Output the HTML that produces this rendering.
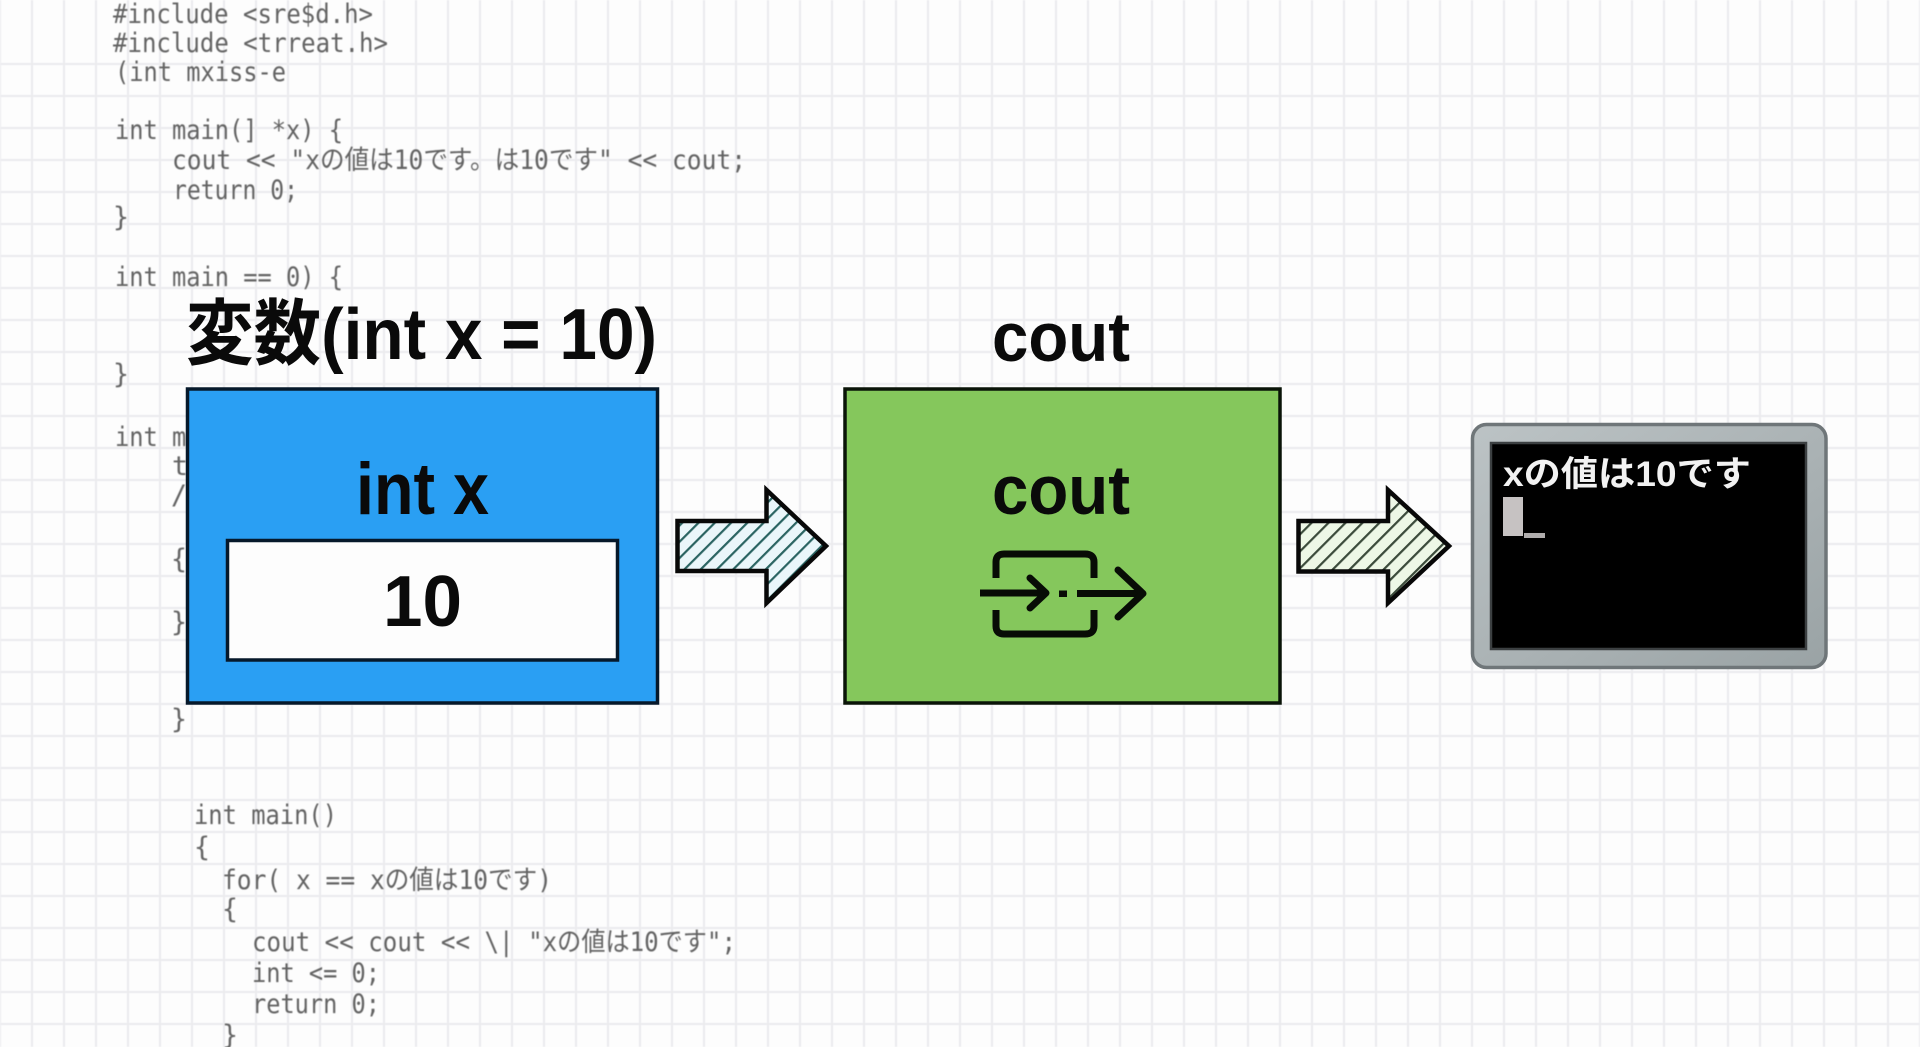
<!DOCTYPE html>
<html lang="ja">
<head>
<meta charset="utf-8">
<title>int x cout diagram</title>
<style>
html,body{margin:0;padding:0;width:1920px;height:1047px;overflow:hidden;background:#fdfdfd}
svg{display:block}
.c{font-family:"DejaVu Sans Mono","Noto Sans CJK JP",monospace;font-size:26.5px;fill:#636363}
.code{filter:blur(.45px)}
.b{font-family:"Liberation Sans","Noto Sans CJK JP",sans-serif;font-weight:700;fill:#0a0a0a}
</style>
</head>
<body>
<svg width="1920" height="1047" viewBox="0 0 1920 1047" xmlns="http://www.w3.org/2000/svg">
<defs>
<pattern id="gv" x="0" y="0" width="32" height="32" patternUnits="userSpaceOnUse">
<rect x="31" y="0" width="2" height="32" fill="#ebebee"/><rect x="0" y="0" width="1" height="32" fill="#ebebee"/>
</pattern>
<pattern id="gh" x="0" y="0" width="32" height="32" patternUnits="userSpaceOnUse">
<rect x="0" y="31" width="32" height="2" fill="#ebebee"/><rect x="0" y="0" width="32" height="1" fill="#ebebee"/>
</pattern>
<pattern id="h1" width="11.5" height="11.5" patternUnits="userSpaceOnUse" patternTransform="rotate(45)">
<rect width="11.5" height="11.5" fill="#eaf6fa"/><rect width="2.2" height="11.5" fill="#2a6462"/>
</pattern>
<pattern id="h2" width="12" height="12" patternUnits="userSpaceOnUse" patternTransform="rotate(45)">
<rect width="12" height="12" fill="#edf7e6"/><rect width="2.2" height="12" fill="#3a4a3a"/>
</pattern>
<linearGradient id="frame" x1="0" y1="0" x2="1" y2="1">
<stop offset="0" stop-color="#bcc3c5"/><stop offset=".6" stop-color="#a8b0b2"/><stop offset="1" stop-color="#9aa3a5"/>
</linearGradient>
</defs>

<rect width="1920" height="1047" fill="#fdfdfd"/>
<g class="code">
<rect width="1920" height="1047" fill="url(#gv)"/>
<rect y="48" width="1920" height="999" fill="url(#gh)"/>

<!-- code block 1 -->
<text class="c" x="113" y="23" textLength="260" lengthAdjust="spacingAndGlyphs">#include &lt;sre$d.h&gt;</text>
<text class="c" x="113" y="52" textLength="275" lengthAdjust="spacingAndGlyphs">#include &lt;trreat.h&gt;</text>
<text class="c" x="115" y="81" textLength="171" lengthAdjust="spacingAndGlyphs">(int mxiss-e</text>
<text class="c" x="115" y="139" textLength="228" lengthAdjust="spacingAndGlyphs">int main(] *x) {</text>
<text class="c" x="172" y="169" textLength="574" lengthAdjust="spacingAndGlyphs">cout &lt;&lt; "xの値は10です。は10です" &lt;&lt; cout;</text>
<text class="c" x="173" y="199" textLength="125" lengthAdjust="spacingAndGlyphs">return 0;</text>
<text class="c" x="113" y="226">}</text>
<text class="c" x="115" y="286" textLength="228" lengthAdjust="spacingAndGlyphs">int main == 0) {</text>
<text class="c" x="113" y="383">}</text>
<text class="c" x="115" y="446" textLength="114" lengthAdjust="spacingAndGlyphs">int main</text>
<text class="c" x="172" y="475">t</text>
<text class="c" x="171" y="504">/</text>
<text class="c" x="171" y="568">{</text>
<text class="c" x="171" y="631">}</text>
<text class="c" x="171" y="728">}</text>

<!-- code block 3 -->
<text class="c" x="194" y="824" textLength="143" lengthAdjust="spacingAndGlyphs">int main()</text>
<text class="c" x="194" y="856">{</text>
<text class="c" x="222" y="889" textLength="330" lengthAdjust="spacingAndGlyphs">for( x == xの値は10です)</text>
<text class="c" x="222" y="918">{</text>
<text class="c" x="252" y="951" textLength="484" lengthAdjust="spacingAndGlyphs">cout &lt;&lt; cout &lt;&lt; \| "xの値は10です";</text>
<text class="c" x="252" y="982" textLength="128" lengthAdjust="spacingAndGlyphs">int &lt;= 0;</text>
<text class="c" x="252" y="1013" textLength="128" lengthAdjust="spacingAndGlyphs">return 0;</text>
<text class="c" x="222" y="1044">}</text>
</g>

<!-- titles -->
<text class="b" x="186" y="359" font-size="72" textLength="471" lengthAdjust="spacingAndGlyphs">変数(int x = 10)</text>
<text class="b" x="992" y="361" font-size="70" textLength="138" lengthAdjust="spacingAndGlyphs">cout</text>

<!-- blue box -->
<rect x="187.5" y="389" width="470" height="314" fill="#2a9ff3" stroke="#06192b" stroke-width="3.5"/>
<text class="b" x="356" y="514" font-size="73" textLength="133" lengthAdjust="spacingAndGlyphs">int x</text>
<rect x="227.5" y="540.5" width="390" height="119.5" fill="#fdfdfd" stroke="#06192b" stroke-width="3.5"/>
<text class="b" x="383" y="626" font-size="72" textLength="79" lengthAdjust="spacingAndGlyphs">10</text>

<!-- arrow 1 -->
<polygon points="677.5,521 766.5,521 766.5,490 826,546 766.5,603 766.5,571 677.5,571" fill="url(#h1)" stroke="#080808" stroke-width="4.5" stroke-linejoin="miter"/>

<!-- green box -->
<rect x="845" y="389" width="435" height="314" fill="#85c75c" stroke="#0a1408" stroke-width="3.5"/>
<text class="b" x="992" y="514" font-size="70" textLength="138" lengthAdjust="spacingAndGlyphs">cout</text>
<g fill="none" stroke="#080c06" stroke-width="7">
<path d="M996 578V562Q996 554 1004 554H1085Q1094 554 1094 562V578"/>
<path d="M996 610V626Q996 634 1004 634H1085Q1094 634 1094 626V610"/>
<path d="M980 593H1046"/>
<path d="M1030 578L1046 593L1030 608" stroke-linecap="round" stroke-linejoin="round"/>
<path d="M1077 593.5H1143"/>
<path d="M1118 570L1143 593.5L1118 617" stroke-linecap="round" stroke-linejoin="round"/>
</g>
<rect x="1059" y="590.5" width="8" height="6.5" fill="#080c06"/>

<!-- arrow 2 -->
<polygon points="1298.5,521 1388,521 1388,490 1449,546 1388,603 1388,571.5 1298.5,571.5" fill="url(#h2)" stroke="#080808" stroke-width="4.5" stroke-linejoin="miter"/>

<!-- terminal -->
<rect x="1472.5" y="424.5" width="353.5" height="243" rx="14" fill="url(#frame)" stroke="#6f7679" stroke-width="3.5"/>
<rect x="1491" y="443" width="315" height="206" fill="#000" stroke="#3c4042" stroke-width="2.5"/>
<text x="1503" y="486" font-family="'Liberation Sans','Noto Sans CJK JP',sans-serif" font-weight="700" font-size="35" fill="#f2f2f2" textLength="248" lengthAdjust="spacingAndGlyphs">xの値は10です</text>
<rect x="1503" y="497" width="20" height="39" fill="#c6c2c2"/>
<rect x="1524" y="533" width="21" height="5" fill="#b0adad"/>
</svg>
</body>
</html>
